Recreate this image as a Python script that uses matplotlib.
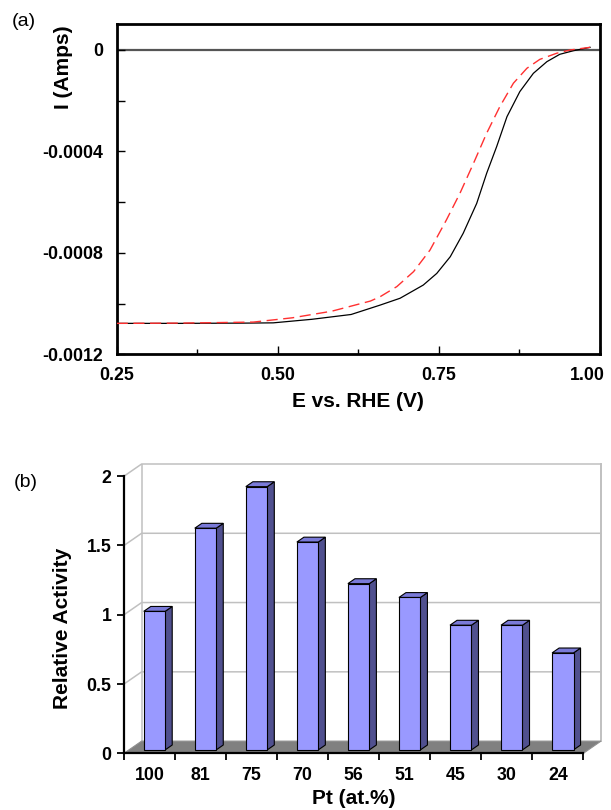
import matplotlib
matplotlib.use("Agg")
import matplotlib.pyplot as plt
import matplotlib.transforms as mtransforms
import numpy as np
from matplotlib.patches import Polygon

plt.rcParams["font.family"] = ["Liberation Sans", "DejaVu Sans"]

# --- (a) ORR polarisation curves ---
e_solid = [0.25, 0.35, 0.45, 0.493, 0.553, 0.614, 0.659, 0.690, 0.726, 0.747,
           0.768, 0.788, 0.809, 0.8245, 0.840, 0.856, 0.876, 0.897, 0.918,
           0.938, 0.959, 0.985]
i_solid = [-0.001078, -0.001078, -0.001077, -0.001076, -0.001062, -0.001043,
           -0.001006, -0.000979, -0.000927, -0.000881, -0.000815, -0.000723,
           -0.000605, -0.000486, -0.000381, -0.000263, -0.000164, -0.000092,
           -0.000046, -0.000017, -0.000003, 0.0000105]

e_dash = [0.25, 0.35, 0.462, 0.523, 0.584, 0.644, 0.659, 0.685, 0.711, 0.7365,
          0.762, 0.783, 0.804, 0.8245, 0.845, 0.866, 0.887, 0.907, 0.933,
          0.954, 0.985]
i_dash = [-0.001078, -0.001077, -0.001073, -0.001056, -0.00103, -0.00099,
          -0.000973, -0.000933, -0.000874, -0.000789, -0.00067, -0.000565,
          -0.000447, -0.000328, -0.000223, -0.000131, -0.000072, -0.000037,
          -0.000013, 0.0, 0.0000105]

a_xticks = [0.25, 0.50, 0.75, 1.00]
a_yticks = [0, -0.0004, -0.0008, -0.0012]
a_yticklabels = ["0", "-0.0004", "-0.0008", "-0.0012"]

# --- (b) relative activity vs Pt content ---
pt_labels = ["100", "81", "75", "70", "56", "51", "45", "30", "24"]
activity = [1.0, 1.6, 1.9, 1.5, 1.2, 1.1, 0.9, 0.9, 0.7]
b_yticks = [0, 0.5, 1, 1.5, 2]
b_yticklabels = ["0", "0.5", "1", "1.5", "2"]

W, H = 611, 810
fig = plt.figure(figsize=(W / 100, H / 100), dpi=100)

def box(l, t, r, b):
    return [l / W, 1 - b / H, (r - l) / W, (b - t) / H]

tick_fs = 12.8
lab_fs = 15

# ---------------- panel (a) ----------------
ax = fig.add_axes(box(116.7, 24, 599.7, 354.3))
ax.axhline(0, color="#555555", lw=1.6, zorder=1)
ax.plot(e_solid, i_solid, color="black", lw=0.9, zorder=3)
ax.plot(e_dash, i_dash, color="#ff3030", lw=1.0, dashes=(8, 4), zorder=4)
ax.set_xlim(0.25, 1.0)
ax.set_ylim(-0.0012, 0.0001025)
ax.set_xticks(a_xticks)
ax.set_xticklabels([f"{v:.2f}" for v in a_xticks])
ax.set_xticks([0.375, 0.625, 0.875], minor=True)
ax.set_yticks(a_yticks)
ax.set_yticklabels(a_yticklabels)
ax.set_yticks([-0.0002, -0.0006, -0.0010], minor=True)
ax.tick_params(which="both", direction="in", width=1.0, color="black")
ax.tick_params(axis="y", which="both", length=6, pad=10)
ax.tick_params(axis="x", which="major", length=6, pad=9)
ax.tick_params(axis="x", which="minor", length=3.5)
for lab in ax.get_xticklabels() + ax.get_yticklabels():
    lab.set_fontsize(tick_fs)
    lab.set_fontweight("bold")
# the last x label sits against the figure edge, nudge it inside
last = ax.get_xticklabels()[-1]
last.set_transform(last.get_transform() +
                   mtransforms.ScaledTranslation(-0.12, 0, fig.dpi_scale_trans))
for sp in ax.spines.values():
    sp.set_linewidth(2)
ax.set_xlabel("E vs. RHE (V)", fontsize=lab_fs, fontweight="bold", labelpad=6)
fig.text(63.5 / W, 1 - 67.5 / H, "I (Amps)", rotation=90, ha="center",
         va="center", fontsize=lab_fs, fontweight="bold")
fig.text(24 / W, 1 - 21 / H, "(a)", ha="center", va="center", fontsize=14)

# ---------------- panel (b) ----------------
DX, DY = 0.345, 0.088      # depth of the pseudo-3D box
D0, D1 = 0.28, 0.68        # depth of bar front / back faces
BW = 0.42

bx = fig.add_axes(box(124, 464, 601, 753.3))
bx.set_xlim(-0.5, 8.5 + DX)
bx.set_ylim(0, 2 + DY)
n = len(activity)
xs = np.arange(n)

grid_c = "#c0c0c0"
for v in b_yticks[1:]:
    bx.plot([-0.5, -0.5 + DX, 8.5 + DX], [v, v + DY, v + DY],
            color=grid_c, lw=1.1, zorder=1, clip_on=False)
bx.plot([-0.5 + DX] * 2, [DY, 2 + DY], color=grid_c, lw=1.1, zorder=1)
bx.plot([8.5 + DX] * 2, [DY, 2 + DY], color=grid_c, lw=1.4, zorder=1,
        clip_on=False)
bx.add_patch(Polygon([(-0.5, 0), (8.5, 0), (8.5 + DX, DY), (-0.5 + DX, DY)],
                     closed=True, fc="#808080", ec="#909090", lw=0.8,
                     zorder=2, clip_on=False))

bars = bx.bar(xs + D0 * DX, activity, width=BW, bottom=D0 * DY,
              color="#9999ff", edgecolor="black", lw=0.8, zorder=5)
ddx, ddy = (D1 - D0) * DX, (D1 - D0) * DY
for r in bars:
    x0, yb = r.get_x(), r.get_y()
    x1, yt = x0 + r.get_width(), yb + r.get_height()
    bx.add_patch(Polygon([(x1, yb), (x1 + ddx, yb + ddy), (x1 + ddx, yt + ddy),
                          (x1, yt)], closed=True, fc="#50508f", ec="black",
                         lw=0.8, zorder=4))
    bx.add_patch(Polygon([(x0, yt), (x1, yt), (x1 + ddx, yt + ddy),
                          (x0 + ddx, yt + ddy)], closed=True, fc="#7a7ad8",
                         ec="black", lw=0.8, zorder=4))

bx.spines["top"].set_visible(False)
bx.spines["right"].set_visible(False)
bx.spines["left"].set_bounds(0, 2)
bx.spines["bottom"].set_bounds(-0.5, 8.5)
for s in ("left", "bottom"):
    bx.spines[s].set_linewidth(1.6)
    bx.spines[s].set_zorder(6)
bx.set_yticks(b_yticks)
bx.set_yticklabels(b_yticklabels)
bx.set_xticks(xs)
bx.set_xticklabels(pt_labels)
bx.set_xticks(np.arange(-0.5, n), minor=True)
bx.tick_params(axis="y", direction="out", length=5, width=1.3, pad=4)
bx.tick_params(axis="x", which="major", length=0, pad=10)
bx.tick_params(axis="x", which="minor", direction="out", length=5, width=1.3)
for lab in bx.get_xticklabels() + bx.get_yticklabels():
    lab.set_fontsize(tick_fs)
    lab.set_fontweight("bold")

fig.text(354 / W, 1 - 798 / H, "Pt (at.%)", ha="center", va="center",
         fontsize=lab_fs, fontweight="bold")
fig.text(62 / W, 1 - 628 / H, "Relative Activity", rotation=90, ha="center",
         va="center", fontsize=lab_fs, fontweight="bold")
fig.text(26 / W, 1 - 482 / H, "(b)", ha="center", va="center", fontsize=14)

fig.savefig("out.png", dpi=100, facecolor="white")
